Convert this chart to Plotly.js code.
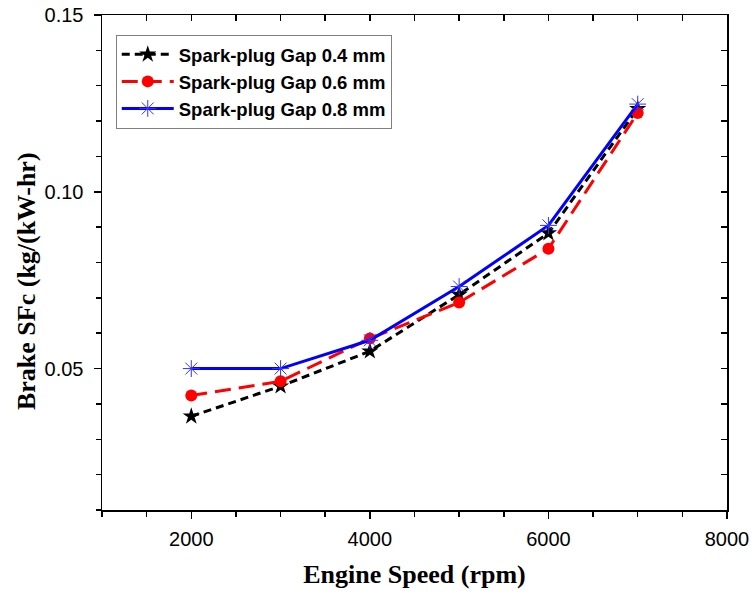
<!DOCTYPE html>
<html><head><meta charset="utf-8">
<script src="https://cdn.plot.ly/plotly-3.0.1.min.js"></script>
<style>body{margin:0;background:#fff}#chart{width:755px;height:594px}</style>
</head><body><div id="chart"></div>
<script>
const speeds = [2000, 3000, 4000, 5000, 6000, 7000];
const gap04 = [0.0365, 0.0450, 0.0549, 0.0709, 0.0883, 0.1235];
const gap06 = [0.0424, 0.0464, 0.0585, 0.0687, 0.0839, 0.1223];
const gap08 = [0.0500, 0.0500, 0.0580, 0.0732, 0.0905, 0.1248];
const names = ['Spark-plug Gap 0.4 mm', 'Spark-plug Gap 0.6 mm', 'Spark-plug Gap 0.8 mm'];
const xTicks = [2000, 4000, 6000, 8000];
const yTicks = [0.05, 0.10, 0.15];
const yTickText = ['0.05', '0.10', '0.15'];
const xTitle = 'Engine Speed (rpm)';
const yTitle = 'Brake SFc (kg/(kW-hr)';

const traces = [
  {x: speeds, y: gap04, name: names[0], mode: 'lines+markers',
   line: {color: '#000000', width: 3, dash: '8px,5px'},
   marker: {symbol: 'star', size: 13, color: '#000000'}},
  {x: speeds, y: gap06, name: names[1], mode: 'lines+markers',
   line: {color: '#ff0000', width: 3, dash: '16px,8px'},
   marker: {symbol: 'circle', size: 12, color: '#ff0000'}},
  {x: speeds, y: gap08, name: names[2], mode: 'lines+markers',
   line: {color: '#0000ff', width: 3},
   marker: {symbol: 'asterisk-open', size: 14, color: '#3333ff', line: {color: '#3333ff', width: 1}}},
  {x: [null], y: [null], xaxis: 'x2', yaxis: 'y2', showlegend: false, hoverinfo: 'skip'}
];

const tickFontX = {family: 'Liberation Sans, Arial, sans-serif', size: 20, color: '#000'};
const tickFontY = {family: 'Liberation Sans, Arial, sans-serif', size: 20, color: '#000'};
const layout = {
  width: 755, height: 594,
  margin: {l: 102, r: 28, t: 15, b: 84},
  paper_bgcolor: '#fff', plot_bgcolor: '#fff',
  font: {family: 'Liberation Sans, Arial, sans-serif', size: 18, color: '#000'},
  showlegend: true,
  legend: {x: 0.022, y: 0.96, xanchor: 'left', yanchor: 'top',
    bordercolor: '#808080', borderwidth: 1, bgcolor: '#fff',
    font: {family: 'Liberation Sans, Arial, sans-serif', size: 18.5, color: '#000', weight: 'bold'},
    tracegroupgap: 0, itemwidth: 52},
  xaxis: {range: [1000, 8000], tickmode: 'array', tickvals: xTicks, ticks: 'outside', ticklen: 7, tickwidth: 1.5,
    tickcolor: '#000', showline: true, linecolor: '#000', linewidth: 1.5, showgrid: false, zeroline: false,
    tickfont: tickFontX, ticklabelstandoff: 3,
    minor: {dtick: 500, tick0: 0, ticks: 'outside', ticklen: 5, tickwidth: 1.5, tickcolor: '#000', showgrid: false},
    title: {text: xTitle, standoff: 16,
      font: {family: 'Liberation Serif, Times New Roman, serif', size: 26, color: '#000', weight: 'bold'}}},
  yaxis: {range: [0.01, 0.15], tickmode: 'array', tickvals: yTicks, ticktext: yTickText, ticks: 'outside', ticklen: 7, tickwidth: 1.5,
    tickcolor: '#000', showline: true, linecolor: '#000', linewidth: 1.5, showgrid: false, zeroline: false,
    tickfont: tickFontY, ticklabelstandoff: 6,
    minor: {dtick: 0.01, tick0: 0, ticks: 'outside', ticklen: 5, tickwidth: 1.5, tickcolor: '#000', showgrid: false}},
  xaxis2: {overlaying: 'x', side: 'top', anchor: 'y', range: [1000, 8000], tickmode: 'array', tickvals: xTicks, ticks: 'inside',
    ticklen: 6, tickwidth: 1.5, tickcolor: '#000', showticklabels: false, showline: true, linecolor: '#000',
    linewidth: 1.5, showgrid: false, zeroline: false,
    minor: {dtick: 500, tick0: 0, ticks: 'inside', ticklen: 6, tickwidth: 1.5, tickcolor: '#000', showgrid: false}},
  yaxis2: {overlaying: 'y', side: 'right', anchor: 'x', range: [0.01, 0.15], tickmode: 'array', tickvals: yTicks, ticks: 'inside',
    ticklen: 6, tickwidth: 1.5, tickcolor: '#000', showticklabels: false, showline: true, linecolor: '#000',
    linewidth: 1.5, showgrid: false, zeroline: false,
    minor: {dtick: 0.01, tick0: 0, ticks: 'inside', ticklen: 6, tickwidth: 1.5, tickcolor: '#000', showgrid: false}},
  annotations: [
    {text: yTitle, textangle: -90, xref: 'paper', yref: 'paper', x: -0.1216, y: 0.4626,
     xanchor: 'center', yanchor: 'middle', showarrow: false,
     font: {family: 'Liberation Serif, Times New Roman, serif', size: 26, color: '#000', weight: 'bold'}}
  ]
};
Plotly.newPlot('chart', traces, layout, {displayModeBar: false, staticPlot: true});
</script></body></html>
